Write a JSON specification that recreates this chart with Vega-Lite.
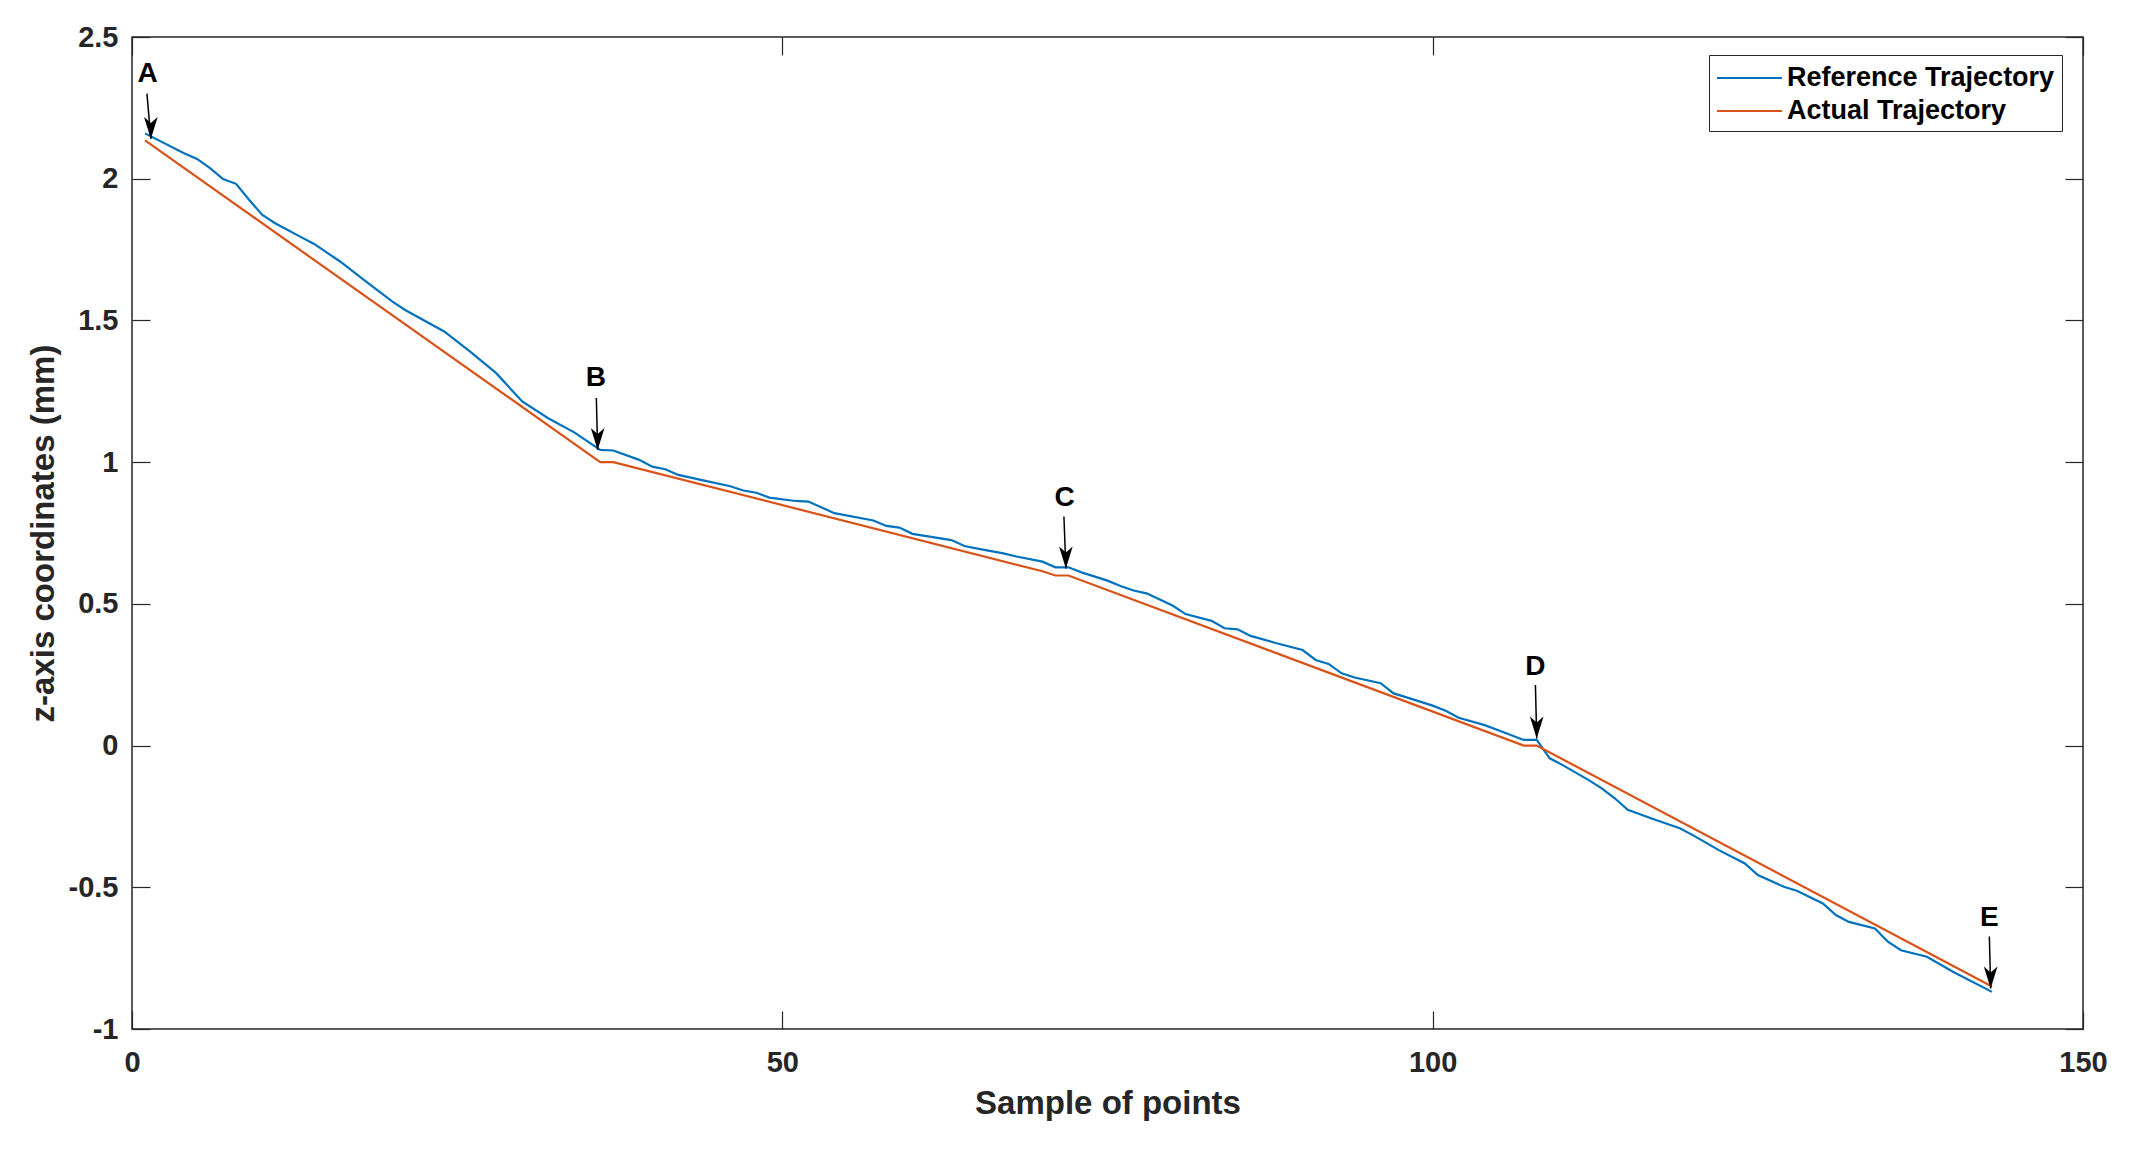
{
  "$schema": "https://vega.github.io/schema/vega-lite/v6.json",
  "autosize": {"type": "none"},
  "padding": {"left": 132, "top": 37, "right": 63, "bottom": 124},
  "width": 1951,
  "height": 992,
  "background": "white",
  "config": {
    "font": "Liberation Sans",
    "view": {"stroke": "#262626", "strokeWidth": 1.5},
    "axis": {
      "domain": false,
      "grid": false,
      "tickColor": "#262626",
      "tickWidth": 1.2,
      "tickSize": -18,
      "labelFont": "Liberation Sans",
      "labelFontSize": 29,
      "labelFontWeight": "bold",
      "labelColor": "#262626",
      "labelFlush": false,
      "labelOverlap": false,
      "titleFont": "Liberation Sans",
      "titleFontSize": 33,
      "titleFontWeight": "bold",
      "titleColor": "#262626"
    }
  },
  "datasets": {
    "traj": [
      {"series": "Reference Trajectory", "sample": 1, "z": 2.16},
      {"series": "Reference Trajectory", "sample": 4, "z": 2.09},
      {"series": "Reference Trajectory", "sample": 5, "z": 2.07},
      {"series": "Reference Trajectory", "sample": 6, "z": 2.037},
      {"series": "Reference Trajectory", "sample": 7, "z": 1.999},
      {"series": "Reference Trajectory", "sample": 8, "z": 1.982},
      {"series": "Reference Trajectory", "sample": 9, "z": 1.926},
      {"series": "Reference Trajectory", "sample": 10, "z": 1.873},
      {"series": "Reference Trajectory", "sample": 11, "z": 1.843},
      {"series": "Reference Trajectory", "sample": 13, "z": 1.794},
      {"series": "Reference Trajectory", "sample": 14, "z": 1.77},
      {"series": "Reference Trajectory", "sample": 16, "z": 1.708},
      {"series": "Reference Trajectory", "sample": 18, "z": 1.637},
      {"series": "Reference Trajectory", "sample": 20, "z": 1.567},
      {"series": "Reference Trajectory", "sample": 21, "z": 1.537},
      {"series": "Reference Trajectory", "sample": 24, "z": 1.461},
      {"series": "Reference Trajectory", "sample": 26, "z": 1.39},
      {"series": "Reference Trajectory", "sample": 28, "z": 1.314},
      {"series": "Reference Trajectory", "sample": 30, "z": 1.214},
      {"series": "Reference Trajectory", "sample": 32, "z": 1.155},
      {"series": "Reference Trajectory", "sample": 34, "z": 1.105},
      {"series": "Reference Trajectory", "sample": 36, "z": 1.043},
      {"series": "Reference Trajectory", "sample": 37, "z": 1.041},
      {"series": "Reference Trajectory", "sample": 39, "z": 1.008},
      {"series": "Reference Trajectory", "sample": 40, "z": 0.984},
      {"series": "Reference Trajectory", "sample": 41, "z": 0.975},
      {"series": "Reference Trajectory", "sample": 42, "z": 0.955},
      {"series": "Reference Trajectory", "sample": 44, "z": 0.935},
      {"series": "Reference Trajectory", "sample": 46, "z": 0.915},
      {"series": "Reference Trajectory", "sample": 47, "z": 0.9},
      {"series": "Reference Trajectory", "sample": 48, "z": 0.892},
      {"series": "Reference Trajectory", "sample": 49, "z": 0.875},
      {"series": "Reference Trajectory", "sample": 51, "z": 0.863},
      {"series": "Reference Trajectory", "sample": 52, "z": 0.861},
      {"series": "Reference Trajectory", "sample": 54, "z": 0.82},
      {"series": "Reference Trajectory", "sample": 57, "z": 0.794},
      {"series": "Reference Trajectory", "sample": 58, "z": 0.775},
      {"series": "Reference Trajectory", "sample": 59, "z": 0.769},
      {"series": "Reference Trajectory", "sample": 60, "z": 0.747},
      {"series": "Reference Trajectory", "sample": 63, "z": 0.725},
      {"series": "Reference Trajectory", "sample": 64, "z": 0.704},
      {"series": "Reference Trajectory", "sample": 65, "z": 0.695},
      {"series": "Reference Trajectory", "sample": 67, "z": 0.678},
      {"series": "Reference Trajectory", "sample": 68, "z": 0.667},
      {"series": "Reference Trajectory", "sample": 70, "z": 0.649},
      {"series": "Reference Trajectory", "sample": 71, "z": 0.629},
      {"series": "Reference Trajectory", "sample": 72, "z": 0.629},
      {"series": "Reference Trajectory", "sample": 73, "z": 0.611},
      {"series": "Reference Trajectory", "sample": 75, "z": 0.582},
      {"series": "Reference Trajectory", "sample": 76, "z": 0.563},
      {"series": "Reference Trajectory", "sample": 77, "z": 0.547},
      {"series": "Reference Trajectory", "sample": 78, "z": 0.537},
      {"series": "Reference Trajectory", "sample": 80, "z": 0.494},
      {"series": "Reference Trajectory", "sample": 81, "z": 0.464},
      {"series": "Reference Trajectory", "sample": 83, "z": 0.44},
      {"series": "Reference Trajectory", "sample": 84, "z": 0.414},
      {"series": "Reference Trajectory", "sample": 85, "z": 0.41},
      {"series": "Reference Trajectory", "sample": 86, "z": 0.387},
      {"series": "Reference Trajectory", "sample": 88, "z": 0.361},
      {"series": "Reference Trajectory", "sample": 90, "z": 0.337},
      {"series": "Reference Trajectory", "sample": 91, "z": 0.302},
      {"series": "Reference Trajectory", "sample": 92, "z": 0.288},
      {"series": "Reference Trajectory", "sample": 93, "z": 0.255},
      {"series": "Reference Trajectory", "sample": 94, "z": 0.24},
      {"series": "Reference Trajectory", "sample": 96, "z": 0.22},
      {"series": "Reference Trajectory", "sample": 97, "z": 0.184},
      {"series": "Reference Trajectory", "sample": 98, "z": 0.17},
      {"series": "Reference Trajectory", "sample": 100, "z": 0.141},
      {"series": "Reference Trajectory", "sample": 101, "z": 0.123},
      {"series": "Reference Trajectory", "sample": 102, "z": 0.098},
      {"series": "Reference Trajectory", "sample": 104, "z": 0.072},
      {"series": "Reference Trajectory", "sample": 105, "z": 0.055},
      {"series": "Reference Trajectory", "sample": 107, "z": 0.02},
      {"series": "Reference Trajectory", "sample": 108, "z": 0.02},
      {"series": "Reference Trajectory", "sample": 109, "z": -0.045},
      {"series": "Reference Trajectory", "sample": 110, "z": -0.069},
      {"series": "Reference Trajectory", "sample": 112, "z": -0.122},
      {"series": "Reference Trajectory", "sample": 113, "z": -0.151},
      {"series": "Reference Trajectory", "sample": 114, "z": -0.186},
      {"series": "Reference Trajectory", "sample": 115, "z": -0.227},
      {"series": "Reference Trajectory", "sample": 117, "z": -0.26},
      {"series": "Reference Trajectory", "sample": 119, "z": -0.292},
      {"series": "Reference Trajectory", "sample": 120, "z": -0.316},
      {"series": "Reference Trajectory", "sample": 122, "z": -0.369},
      {"series": "Reference Trajectory", "sample": 124, "z": -0.416},
      {"series": "Reference Trajectory", "sample": 125, "z": -0.457},
      {"series": "Reference Trajectory", "sample": 127, "z": -0.498},
      {"series": "Reference Trajectory", "sample": 128, "z": -0.512},
      {"series": "Reference Trajectory", "sample": 130, "z": -0.557},
      {"series": "Reference Trajectory", "sample": 131, "z": -0.598},
      {"series": "Reference Trajectory", "sample": 132, "z": -0.622},
      {"series": "Reference Trajectory", "sample": 134, "z": -0.645},
      {"series": "Reference Trajectory", "sample": 135, "z": -0.692},
      {"series": "Reference Trajectory", "sample": 136, "z": -0.722},
      {"series": "Reference Trajectory", "sample": 138, "z": -0.745},
      {"series": "Reference Trajectory", "sample": 140, "z": -0.798},
      {"series": "Reference Trajectory", "sample": 143, "z": -0.869},
      {"series": "Actual Trajectory", "sample": 1, "z": 2.135},
      {"series": "Actual Trajectory", "sample": 36, "z": 1.0},
      {"series": "Actual Trajectory", "sample": 37, "z": 1.0},
      {"series": "Actual Trajectory", "sample": 70, "z": 0.615},
      {"series": "Actual Trajectory", "sample": 71, "z": 0.6},
      {"series": "Actual Trajectory", "sample": 72, "z": 0.6},
      {"series": "Actual Trajectory", "sample": 107, "z": 0.0},
      {"series": "Actual Trajectory", "sample": 108, "z": 0.0},
      {"series": "Actual Trajectory", "sample": 143, "z": -0.85}
    ],
    "notes": [
      {"label": "A", "tx": 1.2, "ty": 2.37, "x0": 1.15, "y0": 2.30, "x1": 1.45, "y1": 2.14},
      {"label": "B", "tx": 35.67, "ty": 1.296, "x0": 35.7, "y0": 1.226, "x1": 35.8, "y1": 1.043},
      {"label": "C", "tx": 71.7, "ty": 0.872, "x0": 71.65, "y0": 0.808, "x1": 71.8, "y1": 0.625},
      {"label": "D", "tx": 107.9, "ty": 0.278, "x0": 107.9, "y0": 0.214, "x1": 108.0, "y1": 0.025},
      {"label": "E", "tx": 142.8, "ty": -0.61, "x0": 142.8, "y0": -0.674, "x1": 142.9, "y1": -0.857}
    ]
  },
  "resolve": {"axis": {"x": "independent", "y": "independent"}},
  "layer": [
    {
      "data": {"name": "traj"},
      "mark": {"type": "line", "strokeWidth": 2.2},
      "encoding": {
        "x": {
          "field": "sample", "type": "quantitative",
          "scale": {"domain": [0, 150], "nice": false, "zero": false},
          "axis": {"orient": "bottom", "title": "Sample of points", "values": [0, 50, 100, 150], "labelPadding": 37, "titlePadding": 10}
        },
        "y": {
          "field": "z", "type": "quantitative",
          "scale": {"domain": [-1, 2.5], "nice": false, "zero": false},
          "axis": {"orient": "left", "title": "z-axis coordinates (mm)", "values": [-1, -0.5, 0, 0.5, 1, 1.5, 2, 2.5], "labelExpr": "toString(datum.value)", "labelPadding": 32, "titlePadding": 8}
        },
        "color": {
          "field": "series", "type": "nominal",
          "scale": {"domain": ["Reference Trajectory", "Actual Trajectory"], "range": ["#0072BD", "#D95319"]},
          "legend": {
            "title": null,
            "orient": "none",
            "legendX": 1577,
            "legendY": 18,
            "fillColor": "white",
            "strokeColor": "#262626",
            "padding": 7,
            "symbolType": "M-1,0H3.33",
            "symbolSize": 900,
            "symbolStrokeWidth": 2,
            "labelFont": "Liberation Sans",
            "labelFontSize": 27,
            "labelFontWeight": "bold",
            "labelColor": "black",
            "labelOffset": 39,
            "labelLimit": 400,
            "rowPadding": 4
          }
        }
      }
    },
    {
      "data": {"name": "notes"},
      "mark": {"type": "rule", "color": "black", "strokeWidth": 1.5},
      "encoding": {
        "x": {"field": "x0", "type": "quantitative", "scale": {"domain": [0, 150], "nice": false, "zero": false}, "axis": null},
        "y": {"field": "y0", "type": "quantitative", "scale": {"domain": [-1, 2.5], "nice": false, "zero": false}, "axis": null},
        "x2": {"field": "x1"},
        "y2": {"field": "y1"}
      }
    },
    {
      "data": {"name": "notes"},
      "mark": {"type": "point", "shape": "M0,1L-0.62,-1L0,-0.45L0.62,-1Z", "filled": true, "color": "black", "opacity": 1, "size": 484, "yOffset": -11},
      "encoding": {
        "x": {"field": "x1", "type": "quantitative", "scale": {"domain": [0, 150], "nice": false, "zero": false}, "axis": null},
        "y": {"field": "y1", "type": "quantitative", "scale": {"domain": [-1, 2.5], "nice": false, "zero": false}, "axis": null}
      }
    },
    {
      "data": {"name": "notes"},
      "mark": {"type": "text", "font": "Liberation Sans", "fontSize": 28, "fontWeight": "bold", "color": "black", "align": "center", "baseline": "middle"},
      "encoding": {
        "x": {
          "field": "tx", "type": "quantitative",
          "scale": {"domain": [0, 150], "nice": false, "zero": false},
          "axis": {"orient": "top", "title": null, "labels": false, "values": [0, 50, 100, 150]}
        },
        "y": {
          "field": "ty", "type": "quantitative",
          "scale": {"domain": [-1, 2.5], "nice": false, "zero": false},
          "axis": {"orient": "right", "title": null, "labels": false, "values": [-1, -0.5, 0, 0.5, 1, 1.5, 2, 2.5]}
        },
        "text": {"field": "label"}
      }
    }
  ]
}
